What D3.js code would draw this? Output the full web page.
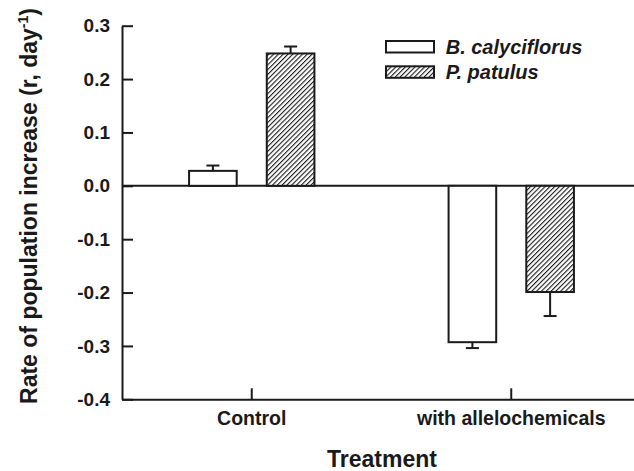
<!DOCTYPE html>
<html>
<head>
<meta charset="utf-8">
<script src="https://cdn.jsdelivr.net/npm/d3@7"></script>
<style>
  body { margin: 0; background: #fff; }
  svg { display: block; font-family: Arial, "Liberation Sans", sans-serif; }
</style>
</head>
<body>
<svg width="634" height="471"></svg>
<script>
// data
var treatments = ["Control", "with allelochemicals"];
var species = ["B. calyciflorus", "P. patulus"];
var rateBc = [0.028, -0.293];
var ratePp = [0.248, -0.199];
var seBc = [0.010, 0.011];
var sePp = [0.013, 0.045];
var yTicks = [0.3, 0.2, 0.1, 0.0, -0.1, -0.2, -0.3, -0.4];

var rows = [];
treatments.forEach(function(t, i) {
  rows.push({t: t, sp: species[0], v: rateBc[i], se: seBc[i]});
  rows.push({t: t, sp: species[1], v: ratePp[i], se: sePp[i]});
});

var svg = d3.select("svg");
var ink = "#1a1a1a";

// hatch for P. patulus
var hs = 3.4;
svg.append("defs").append("pattern")
    .attr("id", "hatch")
    .attr("patternUnits", "userSpaceOnUse")
    .attr("width", hs).attr("height", hs)
    .attr("patternTransform", "rotate(45)")
  .call(function(p) {
    p.append("rect").attr("width", hs).attr("height", hs).attr("fill", "#fff");
    p.append("line").attr("x1", 0).attr("y1", 0).attr("x2", 0).attr("y2", hs)
      .attr("stroke", ink).attr("stroke-width", 2.2);
  });

var mLeft = 122, mRight = 641, mTop = 25.7, mBottom = 399.3;

var y = d3.scaleLinear().domain([-0.4, 0.3]).range([mBottom, mTop]);
var x0 = d3.scaleBand().domain(treatments).range([mLeft, mRight]);
var x1 = d3.scaleBand().domain(species).range([0, x0.bandwidth()])
    .paddingInner(0.387).paddingOuter(0.863);

var fill = d => d === species[0] ? "#fff" : "url(#hatch)";
var cx = d => x0(d.t) + x1(d.sp) + x1.bandwidth() / 2;
var tip = d => y(d.v + (d.v < 0 ? -d.se : d.se));

// zero line
svg.append("line")
    .attr("x1", mLeft).attr("x2", mRight)
    .attr("y1", y(0)).attr("y2", y(0))
    .attr("stroke", ink).attr("stroke-width", 2);

// error bars (one-sided, away from zero)
var err = svg.append("g").selectAll("g")
    .data(rows)
    .join("g")
    .attr("stroke", ink).attr("stroke-width", 2);

err.append("line")
    .attr("x1", cx).attr("x2", cx)
    .attr("y1", d => y(d.v))
    .attr("y2", tip);

err.append("line")
    .attr("x1", d => cx(d) - 6.5)
    .attr("x2", d => cx(d) + 6.5)
    .attr("y1", tip).attr("y2", tip);

// bars
svg.append("g").selectAll("rect")
    .data(rows)
    .join("rect")
    .attr("x", d => x0(d.t) + x1(d.sp))
    .attr("width", x1.bandwidth())
    .attr("y", d => y(Math.max(0, d.v)))
    .attr("height", d => Math.abs(y(d.v) - y(0)))
    .attr("fill", d => fill(d.sp))
    .attr("stroke", ink).attr("stroke-width", 2);

// y axis
var yAxis = svg.append("g")
    .attr("transform", "translate(" + mLeft + ",0)")
    .call(d3.axisLeft(y).tickValues(yTicks).tickSize(-11).tickSizeOuter(0).tickPadding(12));
yAxis.select(".domain").attr("stroke", ink).attr("stroke-width", 2);
yAxis.selectAll(".tick line").attr("stroke", ink).attr("stroke-width", 2);
yAxis.selectAll(".tick text")
    .attr("fill", ink).attr("font-size", 19).attr("font-weight", "bold")
    .text(d => d3.format(".1f")(d).replace("−", "-"));

// x axis
var xAxis = svg.append("g")
    .attr("transform", "translate(0," + mBottom + ")")
    .call(d3.axisBottom(x0).tickSize(-11).tickSizeOuter(0).tickPadding(12));
xAxis.select(".domain").attr("stroke", ink).attr("stroke-width", 2);
xAxis.selectAll(".tick line").attr("stroke", ink).attr("stroke-width", 2);
xAxis.selectAll(".tick text")
    .attr("fill", ink).attr("font-size", 19.5).attr("font-weight", "bold");

// axis titles
svg.append("text")
    .attr("x", 382).attr("y", 467)
    .attr("text-anchor", "middle")
    .attr("font-size", 23).attr("font-weight", "bold").attr("fill", ink)
    .text("Treatment");

var yt = svg.append("text")
    .attr("transform", "translate(37,206) rotate(-90)")
    .attr("text-anchor", "middle")
    .attr("font-size", 23).attr("font-weight", "bold").attr("fill", ink);
yt.append("tspan").text("Rate of population increase (r, day");
yt.append("tspan").attr("font-size", 14).attr("dy", -9).text("-1");
yt.append("tspan").attr("dy", 9).text(")");

// legend
var lg = svg.append("g").selectAll("g")
    .data(species)
    .join("g")
    .attr("transform", (d, i) => "translate(386," + (41 + i * 25.3) + ")");
lg.append("rect")
    .attr("width", 48).attr("height", 11.5)
    .attr("fill", d => fill(d))
    .attr("stroke", ink).attr("stroke-width", 2);
lg.append("text")
    .attr("x", 59.7).attr("y", 12.5)
    .attr("font-size", 20).attr("font-weight", "bold").attr("font-style", "italic")
    .attr("fill", ink)
    .text(d => d);
</script>
</body>
</html>
